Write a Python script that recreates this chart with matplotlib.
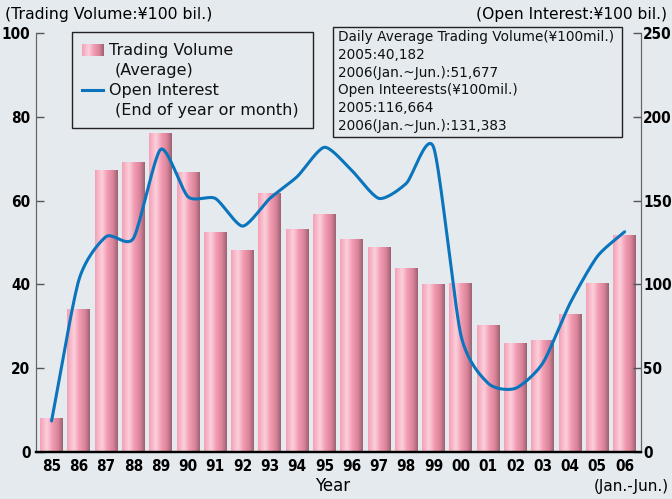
import matplotlib
matplotlib.use('Agg')
import matplotlib.pyplot as plt
import numpy as np
from matplotlib.colors import LinearSegmentedColormap

years = ['85', '86', '87', '88', '89', '90', '91', '92', '93', '94', '95',
         '96', '97', '98', '99', '00', '01', '02', '03', '04', '05', '06']
trading_volume = [7.9, 33.9, 67.1, 69.0, 76.1, 66.6, 52.3, 48.2, 61.8, 53.0, 56.6,
                  50.6, 48.7, 43.9, 39.9, 40.1, 30.1, 26.0, 26.5, 32.7, 40.2, 51.7]
open_interest = [18.5, 102.6, 128.5, 127.5, 180.6, 152.3, 151.3, 134.8, 151.3, 164.3, 181.8,
                 168.0, 151.3, 160.3, 181.8, 69.8, 41.0, 38.0, 53.0, 88.7, 116.7, 131.4]
left_ticks = [0, 20, 40, 60, 80, 100]
right_ticks = [0, 50, 100, 150, 200, 250]

info_lines = ['Daily Average Trading Volume(¥100mil.)',
              '2005:40,182',
              '2006(Jan.~Jun.):51,677',
              'Open Inteerests(¥100mil.)',
              '2005:116,664',
              '2006(Jan.~Jun.):131,383']

bg = '#e5eaee'
line_col = '#0a74bc'
bar_cmap = LinearSegmentedColormap.from_list(
    'bar', [(0, '#f3a0b6'), (0.3, '#fbd0dc'), (0.55, '#f29ab1'), (0.8, '#d88399'), (1, '#9c6272')])
tick_font = dict(family='DejaVu Sans', stretch='condensed', weight='bold', size=11)


def smooth(x, y, n=20, k=0.35):
    # cardinal curve through the points, only for drawing
    mx = np.gradient(x) * 2 * k
    my = np.gradient(y) * 2 * k
    xs, ys = [], []
    t = np.linspace(0, 1, n, endpoint=False)
    h00 = 2 * t ** 3 - 3 * t ** 2 + 1
    h10 = t ** 3 - 2 * t ** 2 + t
    h01 = -2 * t ** 3 + 3 * t ** 2
    h11 = t ** 3 - t ** 2
    for i in range(len(x) - 1):
        xs.extend(h00 * x[i] + h10 * mx[i] + h01 * x[i + 1] + h11 * mx[i + 1])
        ys.extend(h00 * y[i] + h10 * my[i] + h01 * y[i + 1] + h11 * my[i + 1])
    xs.append(x[-1])
    ys.append(y[-1])
    return np.array(xs), np.array(ys)


fig = plt.figure(figsize=(6.72, 4.99), dpi=100, facecolor=bg)
ax = fig.add_axes([36 / 672, 1 - 452 / 499, 605 / 672, 419 / 499])
ax.set_facecolor('none')
ax2 = ax.twinx()

x = np.arange(len(years))
width = 0.84
grad = np.linspace(0, 1, 64).reshape(1, -1)
bars = ax.bar(x, trading_volume, width=width, color='none', edgecolor='none')
for b in bars:
    ax.imshow(grad, cmap=bar_cmap, aspect='auto', zorder=2,
              extent=[b.get_x(), b.get_x() + b.get_width(), 0, b.get_height()])

ax.set_xlim(-0.57, len(years) - 1 + 0.6)
ax.set_ylim(0, 100)
ax.set_yticks(left_ticks)
ax.set_xticks(x)
ax.set_xticklabels(years)
ax.tick_params(axis='x', length=0, pad=5)
ax.tick_params(axis='y', direction='in', length=6, width=1, color='#555555', pad=4)
for lab in ax.get_xticklabels() + ax.get_yticklabels():
    lab.set(**tick_font)

sx, sy = smooth(x.astype(float), np.array(open_interest, dtype=float))
ax2.plot(sx, sy, color=line_col, lw=2.2, solid_capstyle='round', zorder=3)
ax2.set_ylim(0, 250)
ax2.set_yticks(right_ticks)
ax2.tick_params(axis='y', direction='in', length=6, width=1, color='#555555', pad=1.5)
for lab in ax2.get_yticklabels():
    lab.set(**tick_font)

for a in (ax, ax2):
    a.spines['top'].set_visible(False)
    a.spines['left'].set_color('#666666')
    a.spines['right'].set_color('#666666')
    a.spines['bottom'].set_color('black')
    a.spines['bottom'].set_linewidth(1.6)

# legend box
fig.patches.append(plt.Rectangle((72 / 672, 1 - 128 / 499), 241 / 672, 96 / 499,
                                 transform=fig.transFigure, fill=False, ec='#222222', lw=1, zorder=5))
inv = ax.transData.inverted()
(sx0, sy0), (sx1, sy1) = inv.transform([(82, 499 - 56), (103, 499 - 44)])
ax.imshow(grad, cmap=bar_cmap, aspect='auto', zorder=6, extent=[sx0, sx1, sy0, sy1])
fig.add_artist(plt.Line2D([82 / 672, 103 / 672], [1 - 90 / 499, 1 - 90 / 499],
                          color=line_col, lw=2.2, transform=fig.transFigure))
leg_kw = dict(fontsize=11.5, color='#111111', va='center', ha='left')
fig.text(109 / 672, 1 - 50 / 499, 'Trading Volume', **leg_kw)
fig.text(115 / 672, 1 - 70 / 499, '(Average)', **leg_kw)
fig.text(109 / 672, 1 - 90 / 499, 'Open Interest', **leg_kw)
fig.text(115 / 672, 1 - 110 / 499, '(End of year or month)', **leg_kw)

# info box
fig.patches.append(plt.Rectangle((333 / 672, 1 - 137 / 499), 289 / 672, 110 / 499,
                                 transform=fig.transFigure, fc=bg, ec='#222222', lw=1, zorder=5))
for i, line in enumerate(info_lines):
    fig.text(338 / 672, 1 - (37 + i * 17.8) / 499, line, fontsize=9.8, color='#111111',
             va='center', ha='left', zorder=6)

fig.text(5 / 672, 1 - 15 / 499, '(Trading Volume:¥100 bil.)', fontsize=11.3, va='center', ha='left')
fig.text(667 / 672, 1 - 15 / 499, '(Open Interest:¥100 bil.)', fontsize=11.2, va='center', ha='right')
fig.text(333 / 672, 1 - 486 / 499, 'Year', fontsize=12, va='center', ha='center')
fig.text(669 / 672, 1 - 487 / 499, '(Jan.-Jun.)', fontsize=11, va='center', ha='right')

fig.savefig('out.png', dpi=100, facecolor=bg)
